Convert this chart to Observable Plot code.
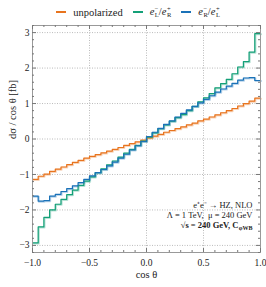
<!DOCTYPE html>
<html><head><meta charset="utf-8">
<script src="https://cdn.jsdelivr.net/npm/d3@7"></script>
<script src="https://cdn.jsdelivr.net/npm/@observablehq/plot@0.6"></script>
<style>
body{margin:0;background:#fff;font-family:"Liberation Serif",serif;color:#222;}
#legend{height:24px;display:flex;justify-content:center;align-items:center;font-size:10.5px;padding-left:10px;box-sizing:border-box;}
.item{display:flex;align-items:center;margin:0 5px;}
.sw{width:10px;height:1.6px;margin-right:7px;}
.ss{display:inline-flex;flex-direction:column;font-size:6.5px;line-height:6px;vertical-align:middle;margin-left:0.5px;}
#chart svg{display:block;}
</style></head><body>
<div id="legend"></div><div id="chart"></div>
<script>
// bins of cos(theta): 40 bins of width 0.05 starting at -1
const binStart = -1, binWidth = 0.05, binCount = 40;
const unpolarized = [-1.14,-1.05,-0.99,-0.91,-0.85,-0.79,-0.72,-0.66,-0.60,-0.54,
  -0.49,-0.44,-0.39,-0.34,-0.29,-0.24,-0.18,-0.13,-0.08,-0.03,
  0.03,0.08,0.13,0.19,0.24,0.29,0.34,0.40,0.45,0.51,
  0.56,0.62,0.68,0.74,0.80,0.86,0.93,1.00,1.07,1.15];
const eLeR = [-2.93,-2.48,-2.21,-2.00,-1.84,-1.70,-1.57,-1.44,-1.31,-1.19,
  -1.07,-0.95,-0.84,-0.73,-0.62,-0.51,-0.40,-0.29,-0.18,-0.06,
  0.05,0.17,0.29,0.40,0.50,0.60,0.69,0.80,0.92,1.05,
  1.16,1.28,1.44,1.56,1.68,1.84,2.03,2.18,2.45,2.97];
const eReL = [-1.61,-1.75,-1.74,-1.61,-1.56,-1.48,-1.40,-1.32,-1.23,-1.14,
  -1.04,-0.95,-0.86,-0.76,-0.65,-0.54,-0.43,-0.31,-0.19,-0.07,
  0.07,0.19,0.30,0.41,0.51,0.62,0.72,0.82,0.92,1.02,
  1.12,1.22,1.32,1.41,1.49,1.57,1.66,1.72,1.73,1.65];
const seriesNames = ["unpolarized", "eL/eR", "eR/eL"];
const seriesColors = ["#e8741e", "#14a078", "#1a72b8"];
const xTicks = [-1, -0.5, 0, 0.5, 1];
const yTicks = [-3, -2, -1, 0, 1, 2, 3];
const xMinorStep = 0.1, yMinorStep = 0.2;

// Legend (HTML)
const legendHTML = [
  "unpolarized",
  '<i>e</i><span class="ss"><span>−</span><span>L</span></span>/<i>e</i><span class="ss"><span>+</span><span>R</span></span>',
  '<i>e</i><span class="ss"><span>−</span><span>R</span></span>/<i>e</i><span class="ss"><span>+</span><span>L</span></span>'
];
document.getElementById("legend").innerHTML = legendHTML.map((t, i) =>
  `<div class="item"><div class="sw" style="background:${seriesColors[i]}"></div><span>${t}</span></div>`).join("");

// step data
const allSeries = [unpolarized, eLeR, eReL];
const stepData = [];
allSeries.forEach((vals, s) => {
  vals.forEach((v, i) => stepData.push({s: seriesNames[s], x: binStart + i * binWidth, y: v}));
  stepData.push({s: seriesNames[s], x: binStart + vals.length * binWidth, y: vals[vals.length - 1]});
});

const W = 266, H = 263, mL = 32, mR = 6, mT = 1, mB = 35;
const fw = W - mL - mR, fh = H - mT - mB;
const xMinor = d3.range(-1, 1.0001, xMinorStep).filter(v => !xTicks.some(t => Math.abs(t - v) < 1e-6));
const yMinor = d3.range(-3.2, 3.2001, yMinorStep).filter(v => !yTicks.some(t => Math.abs(t - v) < 1e-6));
const tickStroke = "#777";

const chart = Plot.plot({
  width: W, height: H, marginLeft: mL, marginRight: mR, marginTop: mT, marginBottom: mB,
  style: {fontFamily: "Liberation Serif, serif", fontSize: "9.5px", background: "white", color: "#222"},
  x: {domain: [-1, 1]},
  y: {domain: [-3.2, 3.2]},
  color: {domain: seriesNames, range: seriesColors},
  marks: [
    Plot.gridX(xTicks, {stroke: "#bbb", strokeOpacity: 1, strokeDasharray: "1,1.5"}),
    Plot.gridY(yTicks, {stroke: "#bbb", strokeOpacity: 1, strokeDasharray: "1,1.5"}),
    Plot.line(stepData, {x: "x", y: "y", z: "s", stroke: "s", curve: "step-after", strokeWidth: 2, strokeOpacity: 0.3, dx: 0.6, dy: 0.6}),
    Plot.line(stepData, {x: "x", y: "y", z: "s", stroke: "s", curve: "step-after", strokeWidth: 1.2}),
    Plot.frame({stroke: "#999", strokeWidth: 1}),
    Plot.tickX(xTicks, {x: d => d, insetTop: fh - 4, stroke: tickStroke}),
    Plot.tickX(xTicks, {x: d => d, insetBottom: fh - 4, stroke: tickStroke}),
    Plot.tickX(xMinor, {x: d => d, insetTop: fh - 2, stroke: tickStroke}),
    Plot.tickX(xMinor, {x: d => d, insetBottom: fh - 2, stroke: tickStroke}),
    Plot.tickY(yTicks, {y: d => d, insetRight: fw - 4, stroke: tickStroke}),
    Plot.tickY(yTicks, {y: d => d, insetLeft: fw - 4, stroke: tickStroke}),
    Plot.tickY(yMinor, {y: d => d, insetRight: fw - 2, stroke: tickStroke}),
    Plot.tickY(yMinor, {y: d => d, insetLeft: fw - 2, stroke: tickStroke}),
    Plot.axisX(xTicks, {tickSize: 0, tickPadding: 7, tickFormat: d3.format(".1f"), label: null}),
    Plot.axisY(yTicks, {tickSize: 0, tickPadding: 3, tickFormat: d3.format("d"), label: null}),
    Plot.text(["cos θ"], {text: d => d, frameAnchor: "bottom", dy: 25, fontSize: 10.5}),
    Plot.text(["dσ / cos θ [fb]"], {text: d => d, frameAnchor: "left", rotate: -90, dx: -20, fontSize: 10.5}),
    Plot.text(["e⁺e⁻ → HZ, NLO"], {text: d => d, frameAnchor: "bottom-right", textAnchor: "end", dx: -8, dy: -45, fontSize: 8.5}),
    Plot.text(["Λ = 1 TeV,  μ = 240 GeV"], {text: d => d, frameAnchor: "bottom-right", textAnchor: "end", dx: -8, dy: -35, fontSize: 8.5}),
    Plot.text(["√s = 240 GeV, C"], {text: d => d, frameAnchor: "bottom-right", textAnchor: "end", dx: -22, dy: -25, fontSize: 8.5, fontWeight: "bold"}),
    Plot.text(["φWB"], {text: d => d, frameAnchor: "bottom-right", textAnchor: "end", dx: -8, dy: -23, fontSize: 6, fontWeight: "bold"})
  ]
});
document.getElementById("chart").appendChild(chart);
</script>
</body></html>
